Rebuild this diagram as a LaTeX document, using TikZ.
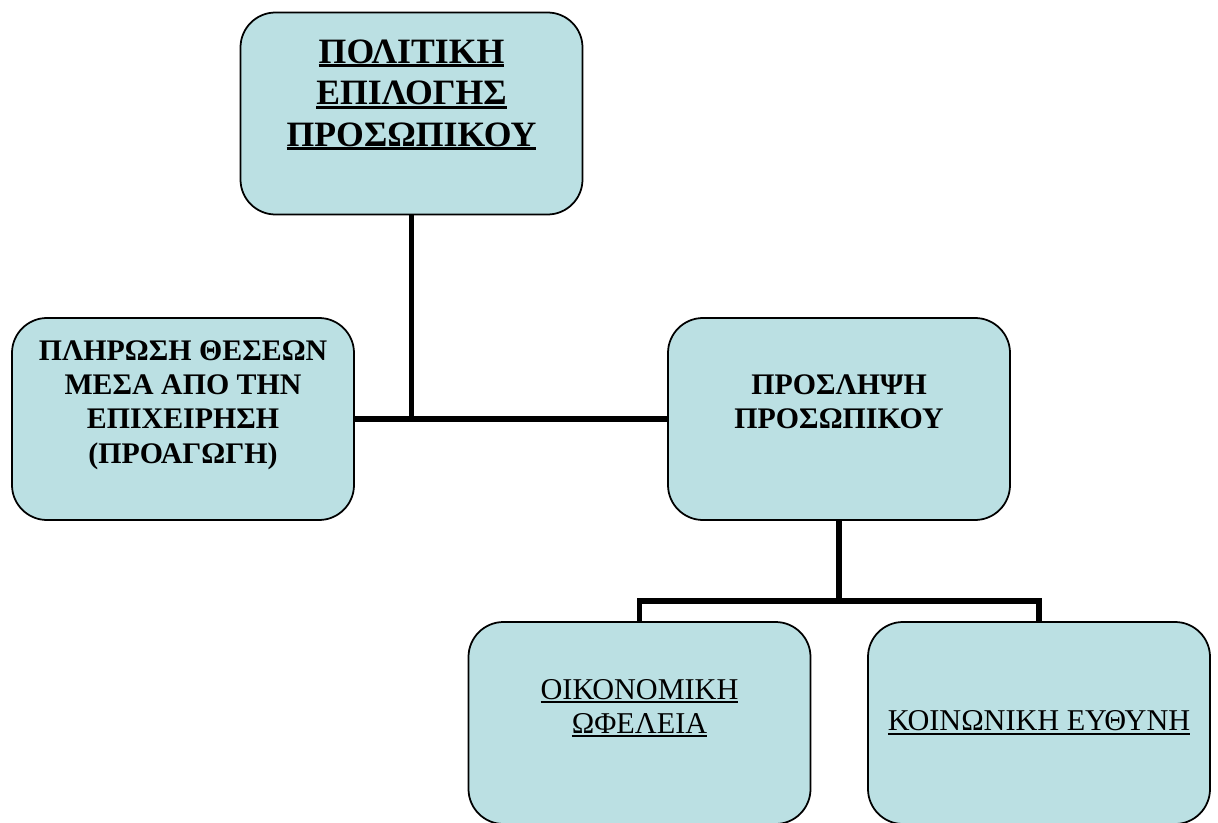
\documentclass[tikz,border=0pt]{standalone}
\usepackage{fontspec}
\setmainfont{Liberation Serif}
\usepackage{tikz}

\definecolor{boxfill}{RGB}{187,224,227}

% underline with a rule of given thickness
\newcommand{\ultext}[2][1.1pt]{\setbox0=\hbox{#2}\rlap{\copy0}\rule[-2.4pt]{\wd0}{#1}}

\tikzset{
  chartbox/.style={draw=black, line width=1pt, fill=boxfill, rounded corners=0.7cm,
    minimum width=6.84cm, minimum height=4.04cm, align=center, inner sep=0pt},
  headfont/.style={font=\fontsize{20.3}{23.6}\selectfont\bfseries},
  midfont/.style={font=\fontsize{17}{19.6}\selectfont\bfseries},
  lowfont/.style={font=\fontsize{17.2}{19.3}\selectfont},
  link/.style={line width=3pt},
}

\begin{document}
\begin{tikzpicture}
  \useasboundingbox (0,0) rectangle (24.36,16.44);

  % boxes
  \node[chartbox, headfont] (policy) at (8.23,14.17)
    {\ultext[1.7pt]{ΠΟΛΙΤΙΚΗ}\\\ultext[1.7pt]{ΕΠΙΛΟΓΗΣ}\\\ultext[1.7pt]{ΠΡΟΣΩΠΙΚΟΥ}\\~};
  \node[chartbox, midfont] (internal) at (3.66,8.06)
    {ΠΛΗΡΩΣΗ ΘΕΣΕΩΝ\\ΜΕΣΑ ΑΠΟ ΤΗΝ\\ΕΠΙΧΕΙΡΗΣΗ\\(ΠΡΟΑΓΩΓΗ)\\~};
  \node[chartbox, midfont] (hiring) at (16.78,8.06)
    {ΠΡΟΣΛΗΨΗ\\ΠΡΟΣΩΠΙΚΟΥ\\~};
  \node[chartbox, lowfont] (economic) at (12.79,1.98)
    {\ultext{ΟΙΚΟΝΟΜΙΚΗ}\\\ultext{ΩΦΕΛΕΙΑ}\\~};
  \node[chartbox, lowfont] (social) at (20.78,1.98)
    {\ultext{ΚΟΙΝΩΝΙΚΗ ΕΥΘΥΝΗ}};

  % connectors
  \draw[link] (internal.east) -- (hiring.west);
  \draw[link] (policy.south) -- (policy.south |- internal.east);
  \coordinate (split) at ([yshift=-1.6cm]hiring.south);
  \draw[link] (hiring.south) -- (split);
  \draw[link] (economic.north) |- (split) -| (social.north);
\end{tikzpicture}
\end{document}
